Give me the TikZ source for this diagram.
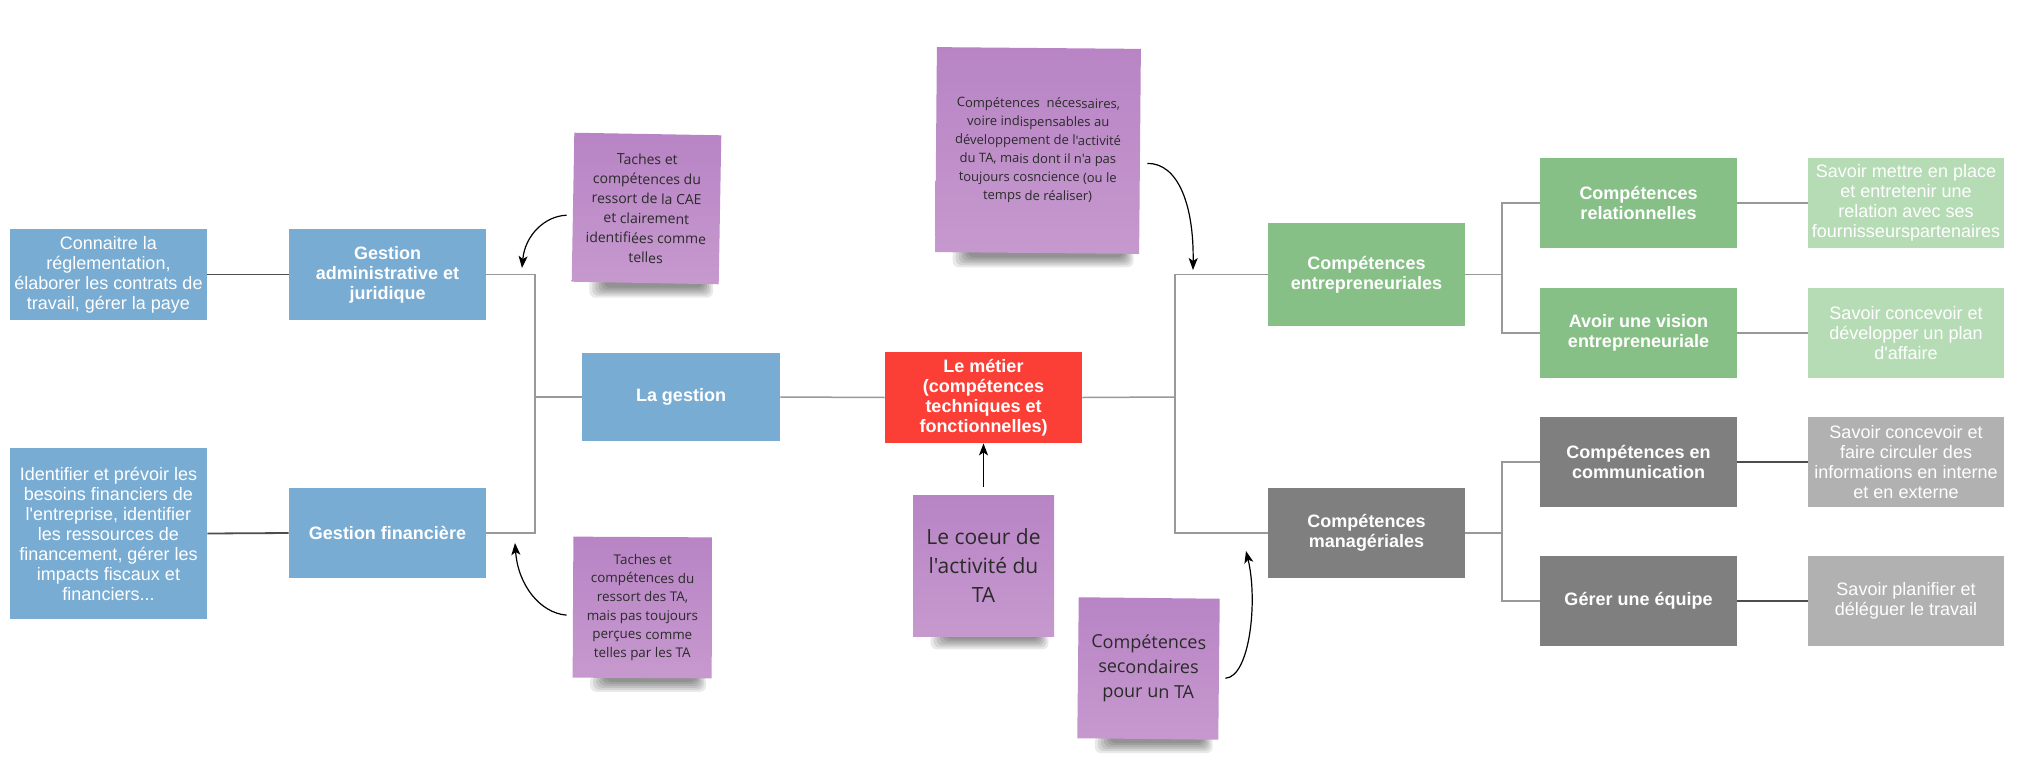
\documentclass[tikz,border=0pt]{standalone}
\usepackage{fontspec}
\setmainfont{Liberation Sans}[Ligatures=TeXOff]
\newfontfamily\notefont{Open Sans}[Ligatures=TeXOff]
\usetikzlibrary{calc,arrows.meta}
\definecolor{cblue}{HTML}{79ACD3}
\definecolor{cred}{HTML}{FB3E36}
\definecolor{cgreen}{HTML}{86C086}
\definecolor{clgreen}{HTML}{B6DCB5}
\definecolor{cdgray}{HTML}{7F7F7F}
\definecolor{clgray}{HTML}{B1B1B1}
\definecolor{notetop}{HTML}{B884C5}
\definecolor{notebot}{HTML}{C699CE}
\definecolor{notetext}{HTML}{2A2A2A}
\definecolor{gline}{HTML}{999999}
\definecolor{dline}{HTML}{4D4D4D}
\pgfdeclarelayer{bg}
\pgfsetlayers{bg,main}
\tikzset{
  box/.style={rectangle, minimum width=98.5pt, minimum height=45pt, inner sep=0pt,
    align=center, text=white, font=\fontsize{9}{10}\selectfont},
  boxb/.style={box, font=\bfseries\fontsize{9}{10}\selectfont},
  bluebox/.style={fill=cblue},
  redbox/.style={fill=cred},
  greenbox/.style={fill=cgreen},
  lgreenbox/.style={fill=clgreen},
  dgraybox/.style={fill=cdgray},
  lgraybox/.style={fill=clgray},
  note/.style={rectangle, inner sep=0pt, align=center, text=notetext,
    top color=notetop, bottom color=notebot, minimum width=70.5pt, minimum height=70.5pt},
  glink/.style={draw=gline, line width=0.75pt},
  dlink/.style={draw=dline, line width=0.9pt},
  arr/.style={draw=black, line width=0.6pt, -{Stealth[length=6pt,width=4.5pt,inset=1.5pt]}},
}
\begin{document}
\begin{tikzpicture}[x=0.5pt,y=-0.5pt]
\useasboundingbox (0,0) rectangle (2018,760);

% left side
\node[box,bluebox,minimum height=45.5pt] (c1) at (108.5,274.5) {Connaitre la\\réglementation,\\élaborer les contrats de\\travail, gérer la paye};
\node[box,bluebox,minimum height=85.5pt] (c2) at (108.5,533.5) {Identifier et prévoir les\\besoins financiers de\\l'entreprise, identifier\\les ressources de\\financement, gérer les\\impacts fiscaux et\\financiers...};
\node[boxb,bluebox,minimum height=45.5pt] (gadm) at (387.5,274.5) {Gestion\\administrative et\\juridique};
\node[boxb,bluebox] (gfin) at (387.5,533) {Gestion financière};
\node[boxb,bluebox,minimum height=44pt,minimum width=99pt] (lag) at (681,397) {La gestion};
\node[boxb,redbox,minimum height=45.5pt] (metier) at (983.5,397.5) {Le métier\\(compétences\\techniques et\\fonctionnelles)};

% right side
\node[boxb,greenbox,minimum height=51.5pt] (entre) at (1366.5,274.5) {Compétences\\entrepreneuriales};
\node[boxb,dgraybox] (manag) at (1366.5,533) {Compétences\\managériales};
\node[boxb,greenbox] (rel) at (1638.5,203) {Compétences\\relationnelles};
\node[boxb,greenbox] (vision) at (1638.5,333) {Avoir une vision\\entrepreneuriale};
\node[boxb,dgraybox] (comm) at (1638.5,462) {Compétences en\\communication};
\node[boxb,dgraybox] (equipe) at (1638.5,601) {Gérer une équipe};
\node[box,lgreenbox,minimum width=98pt] (s1) at (1906,203) {Savoir mettre en place\\et entretenir une\\relation avec ses\\fournisseurspartenaires};
\node[box,lgreenbox,minimum width=98pt] (s2) at (1906,333) {Savoir concevoir et\\développer un plan\\d'affaire};
\node[box,lgraybox,minimum width=98pt] (s3) at (1906,462) {Savoir concevoir et\\faire circuler des\\informations en interne\\et en externe};
\node[box,lgraybox,minimum width=98pt] (s4) at (1906,601) {Savoir planifier et\\déléguer le travail};

% junctions
\coordinate (jl) at (535,397);
\coordinate (jr) at (1175,397);
\coordinate (jr1) at (1502,274.5);
\coordinate (jr2) at (1502,533);

% connectors
\draw[dlink] (c1.east) -- (gadm.west);
\draw[dlink] (c2.east) -- (gfin.west);
\draw[glink] (gadm.east) -| (jl) |- (gfin.east);
\draw[glink] (jl) -- (lag.west);
\draw[glink] (lag.east) -- (metier.west);
\draw[glink] (metier.east) -- (jr);
\draw[glink] (entre.west) -| (jr) |- (manag.west);
\draw[glink] (entre.east) -- (jr1);
\draw[glink] (rel.west) -| (jr1) |- (vision.west);
\draw[glink] (manag.east) -- (jr2);
\draw[glink] (comm.west) -| (jr2) |- (equipe.west);
\draw[glink] (rel.east) -- (s1.west);
\draw[glink] (vision.east) -- (s2.west);
\draw[dlink] (comm.east) -- (s3.west);
\draw[dlink] (equipe.east) -- (s4.west);

% sticky notes
\node[note, rotate=-1, minimum width=73.5pt, minimum height=74.5pt,
  font=\notefont\fontsize{7}{9.85}\selectfont] (n1) at (646.5,208.5)
  {Taches et\\compétences du\\ressort de la CAE\\et clairement\\identifiées comme\\telles};
\node[note, rotate=-0.5, minimum width=102pt, minimum height=102.5pt,
  font=\notefont\fontsize{6.5}{9.25}\selectfont] (n2) at (1038,150.5)
  {Compétences~~nécessaires,\\voire indispensables au\\développement de l'activité\\du TA, mais dont il n'a pas\\toujours cosncience (ou le\\temps de réaliser)};
\node[note, rotate=-0.3, minimum width=69.5pt, minimum height=70.5pt,
  font=\notefont\fontsize{6.7}{9.35}\selectfont] (n3) at (642.5,607.5)
  {Taches et\\compétences du\\ressort des TA,\\mais pas toujours\\perçues comme\\telles par les TA};
\node[note, font=\notefont\fontsize{10.5}{14.5}\selectfont] (n4) at (983.5,565.5)
  {Le coeur de\\l'activité du\\TA};
\node[note, rotate=-0.6, font=\notefont\fontsize{9}{12.35}\selectfont] (n5) at (1148.5,668.5)
  {Compétences\\secondaires\\pour un TA};

% background and note shadows
\begin{pgfonlayer}{bg}
\fill[white] (0,0) rectangle (2018,760);
\foreach \n in {n1,n2,n3,n4,n5}{
  \foreach \k in {0,...,5}{
    \fill[black, opacity=0.085, rounded corners=3pt]
      ($(\n.south west)+(18+3*\k,-3)$) rectangle ($(\n.south east)+(-6-2*\k,13-2*\k)$);
  }
}
\end{pgfonlayer}

% arrows
\coordinate (t1) at (522,268);
\coordinate (t2) at (1193,270);
\coordinate (t3) at (515,543);
\coordinate (t5) at (1246,551);
\draw[arr] ($(n1.west)+(-6,8)$) .. controls (545,216) and (525,235) .. (t1);
\draw[arr] ($(n2.east)+(7,12)$) .. controls (1178,163) and (1194,205) .. (t2);
\draw[arr] ($(n3.west)+(-6,8)$) .. controls (540,613) and (518,585) .. (t3);
\draw[arr] ($(n4.north)+(0,-8)$) -- (metier.south);
\draw[arr] ($(n5.east)+(6,9)$) .. controls (1250,677) and (1258,600) .. (t5);
\end{tikzpicture}
\end{document}
